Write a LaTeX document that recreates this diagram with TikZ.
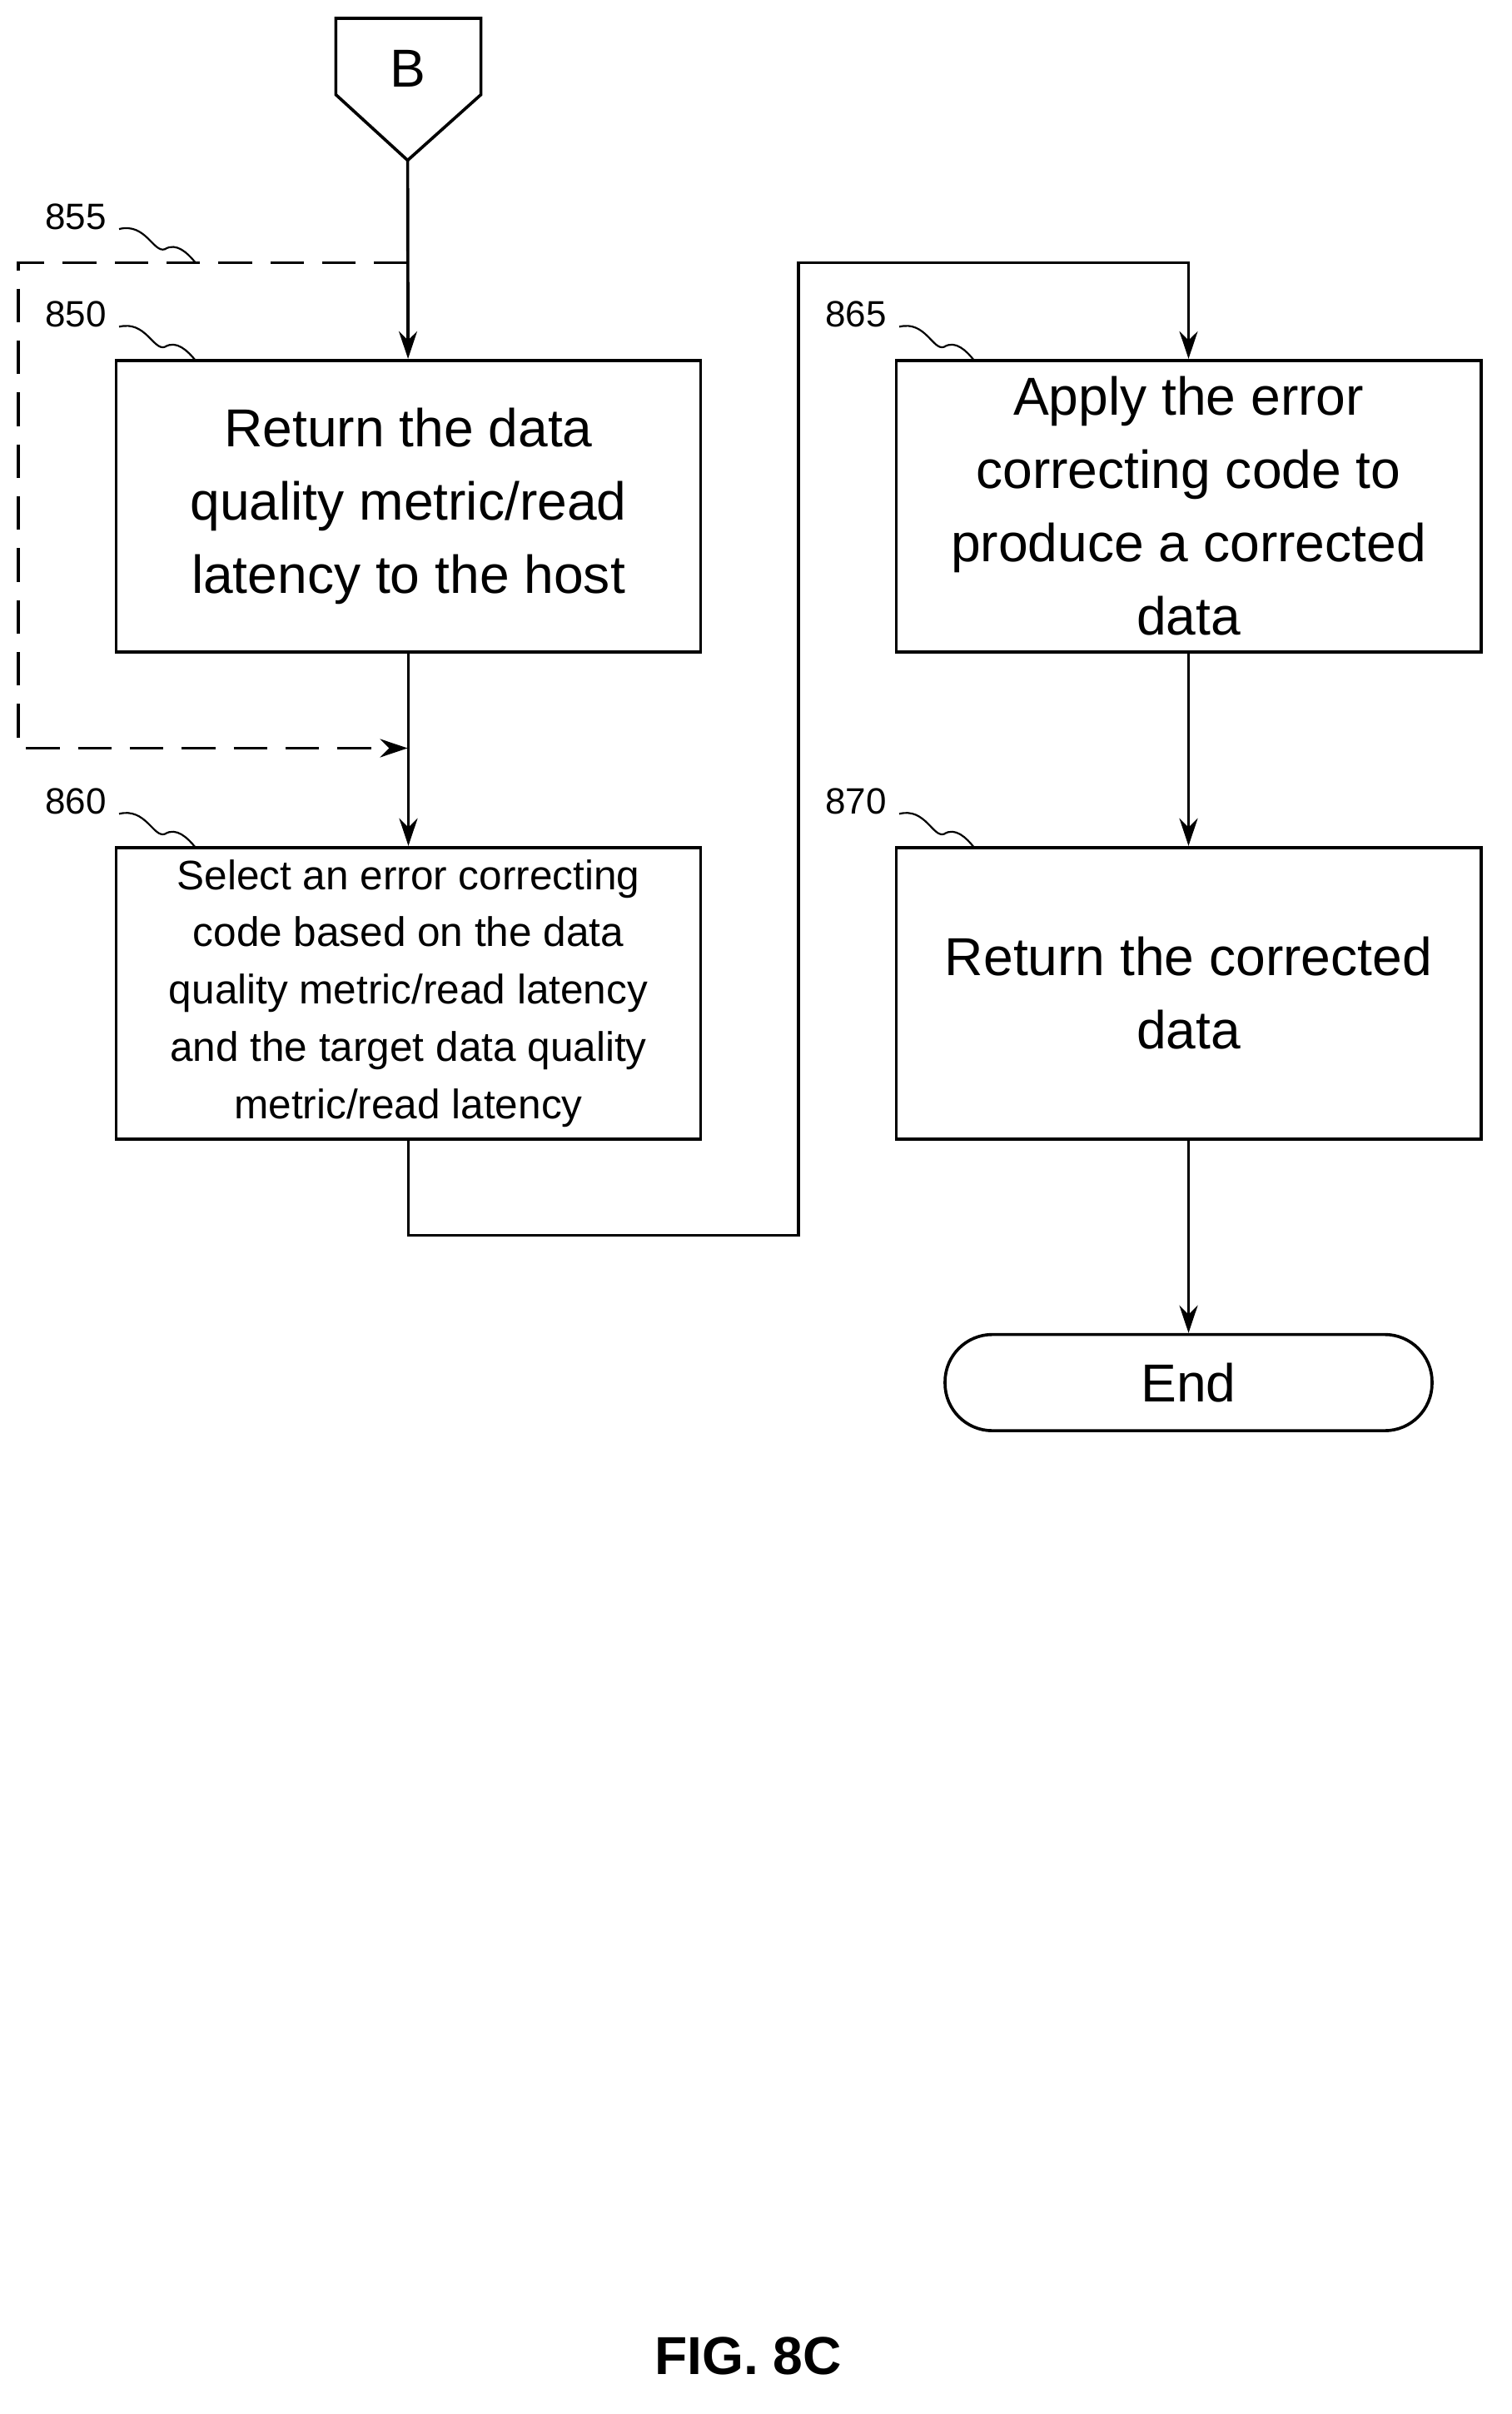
\documentclass[tikz,border=0pt]{standalone}
\usepackage{fontspec}
\setmainfont{Liberation Sans}
\usetikzlibrary{arrows.meta,positioning,calc}
\tikzset{
  procbox/.style={draw,line width=2pt,minimum width=383pt,minimum height=191pt,align=center,inner sep=2pt},
  flow/.style={line width=2pt,-{Stealth[length=18pt,width=12pt]}},
  ref/.style={font=\fontsize{24}{28}\selectfont},
  wig/.style={line width=1.2pt}
}
\newcommand{\squig}[2]{\draw[wig] (#1) .. controls ($(#1)!0.35!(#2)+(0,-12)$) and ($(#1)!0.45!(#2)+(0,6)$) .. ($(#1)!0.6!(#2)$) .. controls ($(#1)!0.75!(#2)+(0,-8)$) and ($(#1)!0.9!(#2)+(0,-4)$) .. (#2);}
\begin{document}
\begin{tikzpicture}[x=1pt,y=-1pt]
	\useasboundingbox (0,0) rectangle (990,1581);
	% Verbinder B
	\draw[line width=2pt] (220,12) -- (315,12) -- (315,62) -- (267,105) -- (220,62) -- cycle;
	\node[font=\fontsize{35}{40}\selectfont] (B) at (267,45) {B};
	\coordinate (Btip) at (267,105);
	
	% Kaesten
	\node[procbox,font=\fontsize{35}{48}\selectfont] (s850) at (267.5,331.5) {Return the data\\quality metric/read\\latency to the host};
	\node[procbox,font=\fontsize{27}{37.5}\selectfont] (s860) at (267.5,650.5) {Select an error correcting\\code based on the data\\quality metric/read latency\\and the target data quality\\metric/read latency};
	\node[procbox,font=\fontsize{35}{48}\selectfont] (s865) at (778.5,331.5) {Apply the error\\correcting code to\\produce a corrected\\data};
	\node[procbox,font=\fontsize{35}{48}\selectfont] (s870) at (778.5,650.5) {Return the corrected\\data};
	\node[draw,line width=2pt,rounded corners=31pt,minimum width=319pt,minimum height=63pt,font=\fontsize{35}{40}\selectfont] (end) at (778.5,905.5) {End};
	
	% Pfeile
	\coordinate (split) at (267,172);
	\coordinate (join) at (267,490);
	\draw[flow] (Btip) -- (s850);
	\draw[flow] (s850) -- (s860);
	\draw[line width=2pt,dash pattern=on 22pt off 12pt,-{Stealth[length=18pt,width=12pt]}] (split) -- (12,172) -- (12,490) -- (join);
	\draw[flow] (s860.south) -- ++(0,62) -| (523,172) -| (s865.north);
	\draw[flow] (s865) -- (s870);
	\draw[flow] (s870) -- (end);
	
	% Bezugszeichen
	\node[ref,anchor=south west] (r855) at (26,154) {855};
	\node[ref,anchor=south west] (r850) at (26,218) {850};
	\node[ref,anchor=south west] (r860) at (26,537) {860};
	\node[ref,anchor=south west] (r865) at (537,218) {865};
	\node[ref,anchor=south west] (r870) at (537,537) {870};
	\squig{78,150}{128,172}
	\squig{78,214}{128,236}
	\squig{78,533}{128,555}
	\squig{589,214}{638,236}
	\squig{589,533}{638,555}
	
	\node[font=\bfseries\fontsize{35}{40}\selectfont] (fig) at (490,1543) {FIG. 8C};
\end{tikzpicture}
\end{document}
